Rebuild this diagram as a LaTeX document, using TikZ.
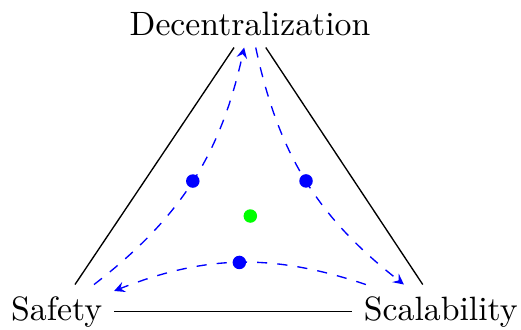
\documentclass[tikz,border=0pt]{standalone}
\begin{document}
\begin{tikzpicture}[x=0.2963pt,y=0.2963pt,
  flow/.style={blue, dashed, -stealth, bend right=20},
  dot/.style={circle, fill=blue, inner sep=0pt, minimum size=4pt}]
\useasboundingbox (0,0) rectangle (521,329);
\node (dec) at (250,305.3) {Decentralization};
\node (saf) at (56.7,17.2) {Safety};
\node (sca) at (440.8,17.2) {Scalability};
\draw (saf) -- (dec);
\draw (dec) -- (sca);
\draw (saf) -- (sca);
\draw[flow] (saf) to node[dot] (d1) {} (dec);
\draw[flow] (dec) to node[dot] (d2) {} (sca);
\draw[flow] (sca) to node[dot] (d3) {} (saf);
\node[dot, fill=green] (c) at (250.3,113) {};
\end{tikzpicture}
\end{document}
